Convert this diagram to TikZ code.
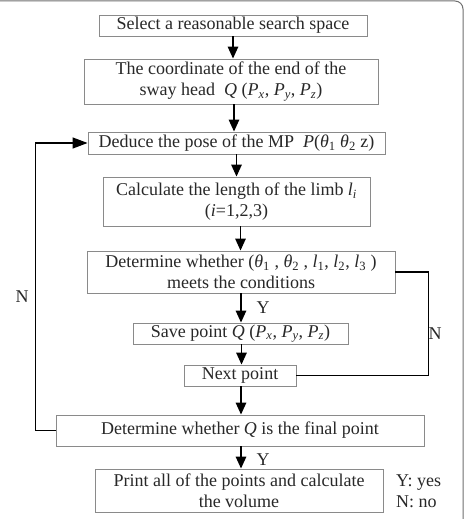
\documentclass[tikz,border=0pt]{standalone}
\usepackage{fontspec}
\setmainfont{Liberation Serif}
\usetikzlibrary{arrows.meta}
\definecolor{boxgray}{HTML}{8A8A8A}
\definecolor{textgray}{HTML}{282828}
\definecolor{framegray}{HTML}{707070}
\newcommand\Pv[1]{\textit{P}\textsubscript{\textit{#1}}}
\newcommand\thv[1]{\textit{θ}\textsubscript{#1}}
\begin{document}
\begin{tikzpicture}[x=1pt,y=-1pt,
  box/.style={draw=boxgray, line width=0.9pt, inner sep=0pt, align=center,
    font=\fontsize{18}{21}\selectfont, text=textgray},
  arr/.style={line width=1.5pt, -{Triangle[length=12pt,width=10.5pt]}},
  loopline/.style={line width=1.3pt},
  lbl/.style={font=\fontsize{18}{21}\selectfont, text=textgray, inner sep=0pt}]
\useasboundingbox (0,0) rectangle (471,519);
\fill[white] (0,0) rectangle (471,519);
\draw[framegray, line width=1pt, rounded corners=8pt] (0,1) -- (463,1) -- (463,520);

\node[box, minimum width=268pt, minimum height=21pt] (b1) at (233,25.5) {Select a reasonable search space};
\node[box, minimum width=294pt, minimum height=45pt] (b2) at (231,81.5) {The coordinate of the end of the\\sway head\enspace\textit{Q} (\Pv{x}, \Pv{y}, \Pv{z})};
\node[box, minimum width=297pt, minimum height=22pt] (b3) at (236.5,143) {Deduce the pose of the MP\enspace\textit{P}(\thv{1} \thv{2} z)};
\node[box, minimum width=267pt, minimum height=49pt] (b4) at (236.5,201.5) {Calculate the length of the limb \textit{l}\textsubscript{\textit{i}}\\(\textit{i}=1,2,3)};
\node[box, minimum width=308pt, minimum height=42pt] (b5) at (241,272) {Determine whether (\thv{1} , \thv{2} , \textit{l}\textsubscript{1}, \textit{l}\textsubscript{2}, \textit{l}\textsubscript{3} )\\meets the conditions};
\node[box, minimum width=215pt, minimum height=21pt] (b6) at (240.5,333.5) {Save point \textit{Q} (\Pv{x}, \Pv{y}, \Pv{z})};
\node[box, minimum width=112pt, minimum height=21pt] (b7) at (240,375.5) {Next point};
\node[box, minimum width=368pt, minimum height=31pt] (b8) at (240,430.5) {Determine whether \textit{Q} is the final point};
\node[box, minimum width=288pt, minimum height=43pt] (b9) at (239,490.5) {Print all of the points and calculate\\the volume};

\draw[arr] (b1.south) -- (b1.south |- b2.north);
\draw[arr] ([xshift=3pt]b2.south) -- ([xshift=3pt]b2.south |- b3.north);
\draw[arr] (b3.south) -- (b3.south |- b4.north);
\draw[arr] ([xshift=4pt]b4.south) -- ([xshift=4pt]b4.south |- b5.north);
\draw[arr] (b5.south) -- (b5.south |- b6.north);
\draw[arr] ([xshift=1pt]b6.south) -- ([xshift=1pt]b6.south |- b7.north);
\draw[arr] ([xshift=1pt]b7.south) -- ([xshift=1pt]b7.south |- b8.north);
\draw[arr] ([xshift=1pt]b8.south) -- ([xshift=1pt]b8.south |- b9.north);

\draw[loopline] (b5.east) -- ++(33,0) |- (b7.east);
\draw[loopline, -{Triangle[length=15pt,width=11pt]}] (b8.west) -- ++(-20,0) |- (b3.west);

\node[lbl] (y1) at (263,308) {Y};
\node[lbl] (y2) at (263,460) {Y};
\node[lbl] (n1) at (22,297) {N};
\node[lbl] (n2) at (435,334) {N};
\node[lbl, anchor=west, align=left] (leg) at (396,491.5) {Y: yes\\N: no};
\end{tikzpicture}
\end{document}
